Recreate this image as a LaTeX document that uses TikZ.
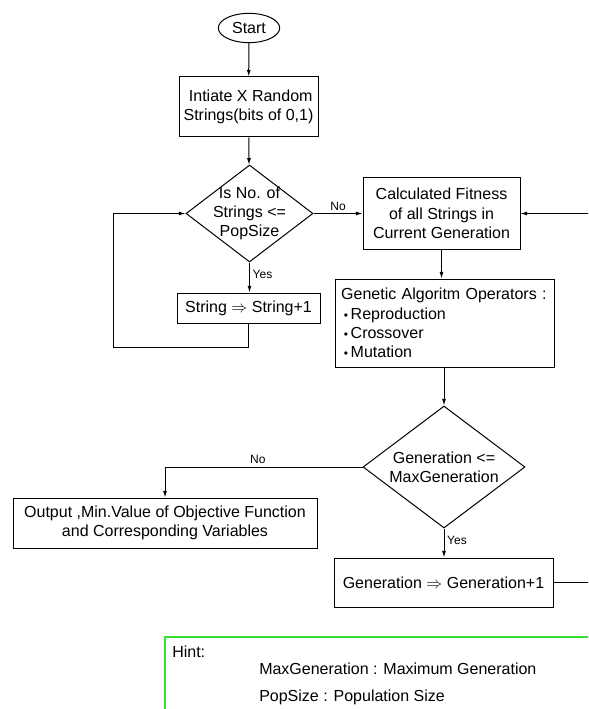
\documentclass[tikz,border=0pt]{standalone}
\usepackage{fontspec}
\setmainfont{Liberation Sans}
\usepackage{tikz}
\usetikzlibrary{arrows.meta,shapes.geometric,calc}
\definecolor{hintgreen}{RGB}{50,225,50}

\tikzset{
  base/.style={draw, line width=0.75pt, font=\fontsize{12}{14.5}\selectfont, align=center},
  term/.style={base, ellipse, inner sep=0pt, minimum width=46pt, minimum height=22pt},
  proc/.style={base, rectangle, inner sep=2pt},
  cond/.style={base, diamond, inner sep=-10pt},
  flow/.style={line width=0.75pt, -{Latex[length=5pt,width=3pt]}},
  lbl/.style={font=\fontsize{9}{10}\selectfont, inner sep=2pt},
  hinttxt/.style={font=\fontsize{12}{14.5}\selectfont, anchor=west, inner sep=0pt}
}

\begin{document}
\begin{tikzpicture}[x=0.75pt,y=-0.75pt]
\useasboundingbox (0,0) rectangle (588,709);
\clip (0,0) rectangle (588,709);

% left column
\node[term] (start) at (249,28) {Start};
\node[proc, minimum width=104.25pt, minimum height=45pt] (init) at (248.5,107) {\ Intiate X Random\\Strings(bits of 0,1)};
\node[cond, minimum width=95.25pt, minimum height=72.75pt] (popchk) at (249.5,213.5) {Is No. of\\Strings <=\\PopSize};
\node[proc, minimum width=107.25pt, minimum height=22.5pt] (strinc) at (248.5,308) {String $\Rightarrow$ String+1};

% right column
\node[proc, minimum width=117.75pt, minimum height=53.25pt] (fitness) at (441.5,213.5) {Calculated Fitness\\of all Strings in\\Current Generation};
\node[proc, minimum width=164.25pt, minimum height=66pt, text width=155pt, align=left] (gaops) at (444.5,323)
  {Genetic Algoritm Operators :\\
   \,{\small\textbullet}\,Reproduction\\
   \,{\small\textbullet}\,Crossover\\
   \,{\small\textbullet}\,Mutation};
\node[cond, minimum width=121.5pt, minimum height=91.5pt] (genchk) at (444,467) {Generation <=\\MaxGeneration};
\node[proc, minimum width=228pt, minimum height=37.5pt] (result) at (165,523) {Output ,Min.Value of Objective Function\\and Corresponding Variables};
\node[proc, minimum width=164.25pt, minimum height=36.75pt] (geninc) at (443.5,582.5) {Generation $\Rightarrow$ Generation+1};

% connectors
\coordinate (loopL) at (113,347);
\draw[flow] (start) -- (init);
\draw[flow] (init) -- (popchk);
\draw[flow] (popchk.east) -- node[lbl, above] {No} (fitness.west);
\draw[flow] (popchk.south) -- node[lbl, right, pos=0.4] {Yes} (popchk.south |- strinc.north);
\draw[flow] (strinc.south) |- (loopL) |- (popchk.west);
\draw[flow] (fitness.south) -- (fitness.south |- gaops.north);
\draw[flow] (genchk.north |- gaops.south) -- (genchk.north);
\draw[flow] (genchk.west) -| node[lbl, above, pos=0.265] {No} (result.north);
\draw[flow] (genchk.south) -- node[lbl, right, pos=0.4] {Yes} (genchk.south |- geninc.north);
\draw[flow] (geninc.east) -- ++(45,0) |- (fitness.east);

% hint
\draw[hintgreen, line width=0.9pt] (165,637) rectangle (620,740);
\node[hinttxt] (hinttitle) at (172,652) {Hint:};
\node[hinttxt] (hintmax) at (259,669) {MaxGeneration : Maximum Generation};
\node[hinttxt] (hintpop) at (259,697) {PopSize : Population Size};
\end{tikzpicture}
\end{document}
